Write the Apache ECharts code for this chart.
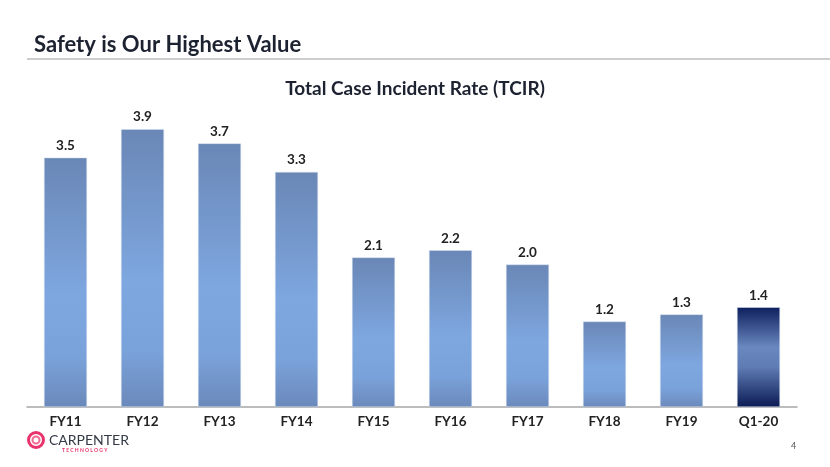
<!DOCTYPE html>
<html><head><meta charset="utf-8">
<script src="https://cdn.jsdelivr.net/npm/echarts@6/dist/echarts.min.js"></script>
<style>html,body{margin:0;padding:0;background:#fff}#c{width:830px;height:467px}</style>
</head><body><div id="c"></div>
<script>
const categories = ['FY11','FY12','FY13','FY14','FY15','FY16','FY17','FY18','FY19','Q1-20'];
const tcirValues = [3.5,3.9,3.7,3.3,2.1,2.2,2.0,1.2,1.3,1.4];
const valueLabels = ['3.5','3.9','3.7','3.3','2.1','2.2','2.0','1.2','1.3','1.4'];

const F = 'Lato, "Open Sans", sans-serif';
const normalGrad = new echarts.graphic.LinearGradient(0,0,0,1,[
  {offset:0,color:'#6a87b6'},{offset:0.55,color:'#7ea7e0'},{offset:0.8,color:'#7aa2da'},{offset:1,color:'#6b89bb'}]);
const lastGrad = new echarts.graphic.LinearGradient(0,0,0,1,[
  {offset:0,color:'#0e1f5e'},{offset:0.4,color:'#6a88c0'},{offset:0.6,color:'#5f7cb4'},{offset:1,color:'#0c1b55'}]);

const chart = echarts.init(document.getElementById('c'));
chart.setOption({
  backgroundColor:'#fff',
  animation:false,
  title:[
    {text:'Safety is Our Highest Value',left:29,top:29,textStyle:{fontFamily:F,fontWeight:'bold',fontSize:22,color:'#1c2230'}},
    {text:'Total Case Incident Rate (TCIR)',left:'center',top:74,textStyle:{fontFamily:F,fontWeight:'bold',fontSize:19,color:'#1c2230'}}
  ],
  grid:{left:27,right:33,top:122,bottom:60},
  xAxis:{type:'category',data:categories,
    axisLine:{lineStyle:{color:'#a6a6a6',width:1.5}},axisTick:{show:false},
    axisLabel:{fontFamily:F,fontWeight:'bold',fontSize:13.5,color:'#222',margin:8}},
  yAxis:{type:'value',min:0,max:4,show:false,splitLine:{show:false}},
  series:[{type:'bar',barWidth:43,
    data:tcirValues.map((v,i)=>({value:v,itemStyle:{color:i===tcirValues.length-1?lastGrad:normalGrad,borderColor:'#d8e2f0',borderWidth:0.5}})),
    label:{show:true,position:'top',distance:5,fontFamily:F,fontWeight:'bold',fontSize:13.5,color:'#222',
      formatter:p=>valueLabels[p.dataIndex]}}],
  graphic:[
    {type:'line',shape:{x1:27,y1:59,x2:830,y2:59},style:{stroke:'#bdbdbd',lineWidth:1.5}},
    {type:'circle',shape:{cx:36,cy:440,r:7.5},style:{fill:'none',stroke:'#e8336b',lineWidth:3}},
    {type:'circle',shape:{cx:36,cy:440,r:3.5},style:{fill:'none',stroke:'#f06a92',lineWidth:2}},
    {type:'text',left:49,top:433,style:{text:'CARPENTER',font:'14px '+F,fill:'#333a45'}},
    {type:'text',left:62,top:448,style:{text:'T E C H N O L O G Y',font:'bold 5px '+F,fill:'#e8336b'}},
    {type:'text',left:791,top:442,style:{text:'4',font:'9px '+F,fill:'#555'}}
  ]
});
</script></body></html>
